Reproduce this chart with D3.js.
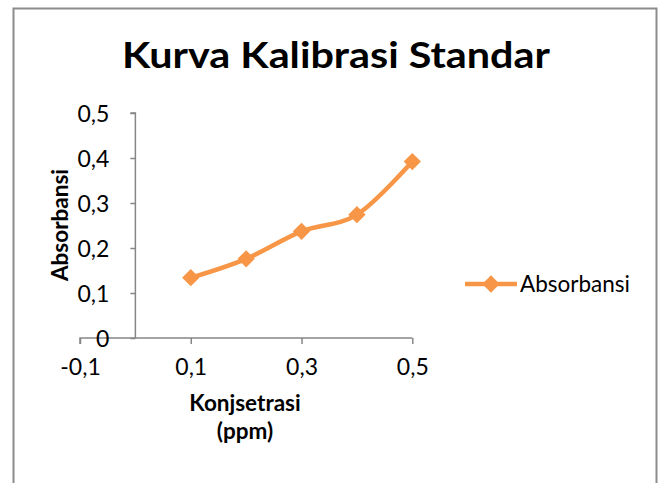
<!DOCTYPE html>
<html>
<head>
<meta charset="utf-8">
<script src="https://cdn.jsdelivr.net/npm/d3@7"></script>
<style>
  body { margin: 0; background: #fff; }
  svg { display: block; font-family: Lato, "Open Sans", sans-serif; }
</style>
</head>
<body>
<svg width="665" height="483"></svg>
<script>
// kalibrasi data
var konsentrasi = [0.1, 0.2, 0.3, 0.4, 0.5];
var absorbansi = [0.134, 0.176, 0.237, 0.274, 0.392];
var xTicks = [-0.1, 0.1, 0.3, 0.5];
var yTicks = [0, 0.1, 0.2, 0.3, 0.4, 0.5];
var seriesName = "Absorbansi";

var svg = d3.select("svg");
var orange = "#f79646";
// excel style labels: decimal comma, plain hyphen for minus
var fmt = d => String(+d.toFixed(1)).replace(".", ",");

// chart frame
svg.append("rect")
    .attr("x", 13.5).attr("y", 8.5)
    .attr("width", 643).attr("height", 500)
    .attr("fill", "none")
    .attr("stroke", "#8c8c8c")
    .attr("stroke-width", 2);

svg.append("text")
    .attr("x", 336).attr("y", 68)
    .attr("text-anchor", "middle")
    .attr("font-size", 37)
    .attr("font-weight", "bold")
    .attr("textLength", 428)
    .attr("lengthAdjust", "spacingAndGlyphs")
    .text("Kurva Kalibrasi Standar");

var x = d3.scaleLinear().domain([-0.1, 0.5]).range([80, 412.3]);
var y = d3.scaleLinear().domain([0, 0.5]).range([338, 113]);

var xAxis = svg.append("g")
    .attr("transform", "translate(0," + y(0) + ")")
    .call(d3.axisBottom(x).tickValues(xTicks).tickFormat(fmt).tickSize(6).tickPadding(15));

var yAxis = svg.append("g")
    .attr("transform", "translate(" + x(0) + ",0)")
    .call(d3.axisLeft(y).tickValues(yTicks).tickFormat(fmt).tickSize(5).tickPadding(21));

[xAxis, yAxis].forEach(g => {
    g.select(".domain").attr("stroke", "#868686").attr("stroke-width", 1.5);
    g.selectAll(".tick line").attr("stroke", "#868686").attr("stroke-width", 1.5);
    g.selectAll(".tick text")
        .attr("font-size", 23)
        .attr("font-family", "Lato, 'Open Sans', sans-serif")
        .attr("fill", "#000");
});
yAxis.selectAll(".tick text").attr("dy", "0.36em");
// the x domain line has no end caps in the reference
xAxis.select(".domain").attr("d", "M" + x(-0.1) + ",6V0H" + x(0.5));
yAxis.select(".domain").attr("d", "M-5," + y(0.5) + "H0V" + y(0));

var line = d3.line()
    .x((d, i) => x(konsentrasi[i]))
    .y(d => y(d))
    .curve(d3.curveCatmullRom.alpha(0));

svg.append("path")
    .datum(absorbansi)
    .attr("fill", "none")
    .attr("stroke", orange)
    .attr("stroke-width", 4.5)
    .attr("stroke-linejoin", "round")
    .attr("d", line);

var diamond = d3.symbol().type(d3.symbolDiamond2).size(190);

svg.append("g").selectAll("path")
    .data(absorbansi)
    .enter().append("path")
    .attr("transform", (d, i) => "translate(" + x(konsentrasi[i]) + "," + y(d) + ")")
    .attr("d", diamond)
    .attr("fill", orange);

// axis titles
svg.append("text")
    .attr("transform", "translate(68,225) rotate(-90)")
    .attr("text-anchor", "middle")
    .attr("font-size", 22.5)
    .attr("font-weight", "bold")
    .text("Absorbansi");

var xt = svg.append("text")
    .attr("text-anchor", "middle")
    .attr("font-size", 22.5)
    .attr("font-weight", "bold");
xt.append("tspan").attr("x", 245).attr("y", 411).text("Konjsetrasi");
xt.append("tspan").attr("x", 245).attr("y", 439).text("(ppm)");

// legend
var lg = svg.append("g").attr("transform", "translate(465,284)");
lg.append("line")
    .attr("x1", 0).attr("x2", 52)
    .attr("stroke", orange).attr("stroke-width", 4.5);
lg.append("path")
    .attr("transform", "translate(26,0)")
    .attr("d", diamond)
    .attr("fill", orange);
lg.append("text")
    .attr("x", 55).attr("y", 8)
    .attr("font-size", 22.5)
    .text(seriesName);
</script>
</body>
</html>
